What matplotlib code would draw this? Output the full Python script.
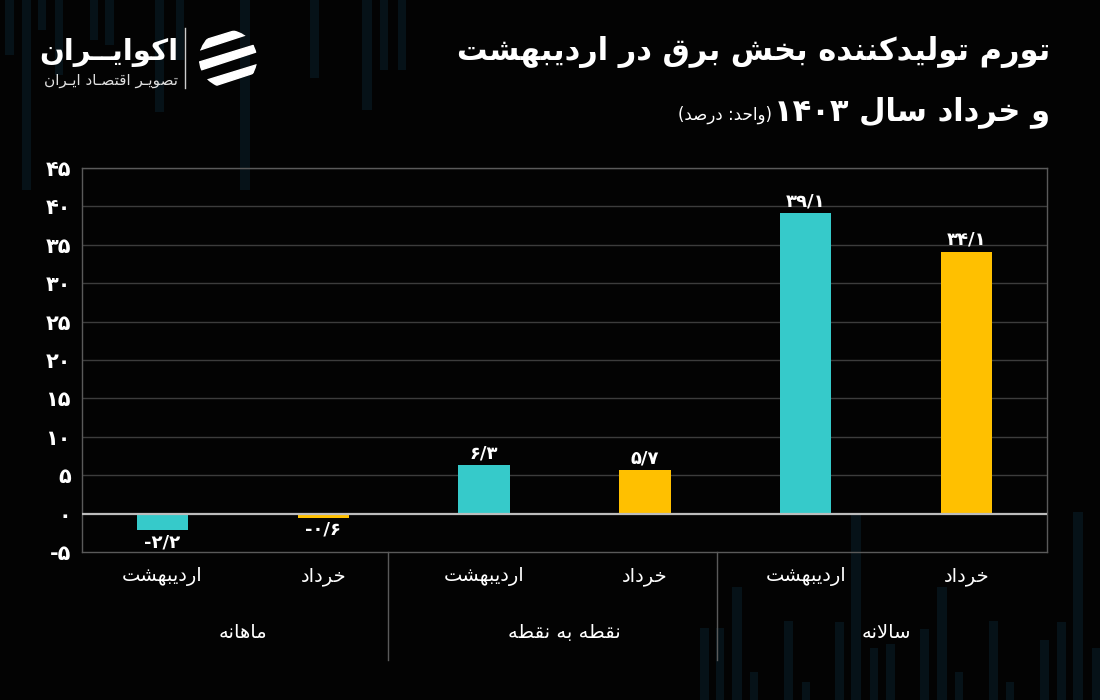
import matplotlib
matplotlib.use('Agg')
import matplotlib.pyplot as plt
from matplotlib.patches import Circle, Polygon, Rectangle
from matplotlib.text import Annotation
import matplotlib.transforms as mtransforms

# ---------------- data ----------------
categories = ['اردیبهشت', 'خرداد', 'اردیبهشت', 'خرداد', 'اردیبهشت', 'خرداد']
groups = ['ماهانه', 'نقطه به نقطه', 'سالانه']
values = [-2.2, -0.6, 6.3, 5.7, 39.1, 34.1]
yticks = [-5, 0, 5, 10, 15, 20, 25, 30, 35, 40, 45]
title_line1 = 'تورم تولیدکننده بخش برق در اردیبهشت'
title_line2 = 'و خرداد سال ۱۴۰۳'
unit_text = '(واحد: درصد)'
logo_name = 'اکوایــران'
logo_sub = 'تصویـر اقتصـاد ایـران'

TEAL = '#36CACA'
GOLD = '#FFC000'
BG = '#030303'
STRIPE = '#061218'
bar_colors = [TEAL, GOLD] * 3

# ---------------- minimal Persian shaping ----------------
F = {
    'ا': ('\uFE8D', '\uFE8E', None, None), 'آ': ('\uFE81', '\uFE82', None, None),
    'ب': ('\uFE8F', '\uFE90', '\uFE91', '\uFE92'), 'پ': ('\uFB56', '\uFB57', '\uFB58', '\uFB59'),
    'ت': ('\uFE95', '\uFE96', '\uFE97', '\uFE98'), 'ث': ('\uFE99', '\uFE9A', '\uFE9B', '\uFE9C'),
    'ج': ('\uFE9D', '\uFE9E', '\uFE9F', '\uFEA0'), 'چ': ('\uFB7A', '\uFB7B', '\uFB7C', '\uFB7D'),
    'ح': ('\uFEA1', '\uFEA2', '\uFEA3', '\uFEA4'), 'خ': ('\uFEA5', '\uFEA6', '\uFEA7', '\uFEA8'),
    'د': ('\uFEA9', '\uFEAA', None, None), 'ذ': ('\uFEAB', '\uFEAC', None, None),
    'ر': ('\uFEAD', '\uFEAE', None, None), 'ز': ('\uFEAF', '\uFEB0', None, None),
    'ژ': ('\uFB8A', '\uFB8B', None, None),
    'س': ('\uFEB1', '\uFEB2', '\uFEB3', '\uFEB4'), 'ش': ('\uFEB5', '\uFEB6', '\uFEB7', '\uFEB8'),
    'ص': ('\uFEB9', '\uFEBA', '\uFEBB', '\uFEBC'), 'ض': ('\uFEBD', '\uFEBE', '\uFEBF', '\uFEC0'),
    'ط': ('\uFEC1', '\uFEC2', '\uFEC3', '\uFEC4'), 'ظ': ('\uFEC5', '\uFEC6', '\uFEC7', '\uFEC8'),
    'ع': ('\uFEC9', '\uFECA', '\uFECB', '\uFECC'), 'غ': ('\uFECD', '\uFECE', '\uFECF', '\uFED0'),
    'ف': ('\uFED1', '\uFED2', '\uFED3', '\uFED4'), 'ق': ('\uFED5', '\uFED6', '\uFED7', '\uFED8'),
    'ک': ('\uFB8E', '\uFB8F', '\uFB90', '\uFB91'), 'گ': ('\uFB92', '\uFB93', '\uFB94', '\uFB95'),
    'ل': ('\uFEDD', '\uFEDE', '\uFEDF', '\uFEE0'), 'م': ('\uFEE1', '\uFEE2', '\uFEE3', '\uFEE4'),
    'ن': ('\uFEE5', '\uFEE6', '\uFEE7', '\uFEE8'), 'ه': ('\uFEE9', '\uFEEA', '\uFEEB', '\uFEEC'),
    'و': ('\uFEED', '\uFEEE', None, None),
    'ی': ('\uFBFC', '\uFBFD', '\uFBFE', '\uFBFF'),
    'ـ': ('ـ', 'ـ', 'ـ', 'ـ'),
}


def _dual(c):
    return c in F and F[c][2] is not None


def shape(s):
    out = []
    i, n = 0, len(s)
    while i < n:
        c = s[i]
        if c not in F:
            out.append(c)
            i += 1
            continue
        jp = i > 0 and _dual(s[i - 1])
        if c == 'ل' and i + 1 < n and s[i + 1] in 'اآ':
            out.append('\uFEFC' if jp else '\uFEFB')
            i += 2
            continue
        jn = _dual(c) and i + 1 < n and s[i + 1] in F
        iso, fin, ini, med = F[c]
        if jp and jn:
            out.append(med)
        elif jp:
            out.append(fin)
        elif jn:
            out.append(ini)
        else:
            out.append(iso)
        i += 1
    return ''.join(out)


MIRROR = {'(': ')', ')': '('}


def rtl(s):
    sh = shape(s)
    runs = []
    for ch in sh:
        ltr = ch.isdigit() or ch == '/'
        if runs and runs[-1][0] == ltr:
            runs[-1][1].append(ch)
        else:
            runs.append([ltr, [ch]])
    out = []
    for ltr, chs in reversed(runs):
        if ltr:
            out.append(''.join(chs))
        else:
            out.append(''.join(MIRROR.get(c, c) for c in reversed(chs)))
    return ''.join(out)


FA_DIGITS = str.maketrans('0123456789.', '۰۱۲۳۴۵۶۷۸۹/')


def fa_num(v, fmt='{:.1f}'):
    s = fmt.format(abs(v)).translate(FA_DIGITS)
    return ('-' if v < 0 else '') + s


# ---------------- figure ----------------
plt.rcParams['font.family'] = ['DejaVu Sans']
fig = plt.figure(figsize=(11, 7), dpi=100, facecolor=BG)

# faint decorative background stripes (pixel layout: x, width, y0, y1)
deco = [(5, 9, 0, 55), (22, 9, 0, 190), (38, 8, 0, 30), (55, 8, 0, 75), (90, 8, 0, 40),
        (105, 9, 0, 45), (155, 9, 0, 112), (176, 8, 0, 60), (240, 10, 0, 190),
        (310, 9, 0, 78), (362, 10, 0, 110), (380, 8, 0, 70), (398, 8, 0, 70),
        (700, 9, 628, 700), (716, 8, 628, 700), (732, 10, 587, 700), (750, 8, 672, 700),
        (784, 9, 621, 700), (802, 8, 682, 700), (835, 9, 622, 700), (851, 10, 515, 700),
        (870, 8, 648, 700), (886, 9, 644, 700), (920, 9, 629, 700), (937, 10, 587, 700),
        (955, 8, 672, 700), (989, 9, 621, 700), (1006, 8, 682, 700), (1040, 9, 640, 700),
        (1057, 9, 622, 700), (1073, 10, 512, 700), (1092, 8, 648, 700)]
for px, pw, py0, py1 in deco:
    fig.add_artist(Rectangle((px / 1100, 1 - py1 / 700), pw / 1100, (py1 - py0) / 700,
                             transform=fig.transFigure, color=STRIPE, lw=0, zorder=0))

ax = fig.add_axes([82 / 1100, 1 - 552 / 700, (1047 - 82) / 1100, (552 - 168) / 700])
ax.set_facecolor(BG)
ax.patch.set_alpha(0.0)

x = list(range(len(values)))
ax.bar(x, values, width=0.32, color=bar_colors, zorder=3)
ax.set_xlim(-0.5, len(values) - 0.5)
ax.set_ylim(yticks[0], yticks[-1])
ax.set_yticks(yticks)
ax.set_yticklabels([fa_num(t, '{:.0f}') for t in yticks], color='white',
                   fontsize=15, fontweight='bold')
ax.tick_params(axis='y', length=0, pad=8)
ax.set_xticks([])
for t in yticks[2:]:
    ax.axhline(t, color='#3c3c3c', lw=1, zorder=1)
ax.axhline(0, color='#bdbdbd', lw=1.6, zorder=4)
for sp in ax.spines.values():
    sp.set_color('#5a5a5a')
    sp.set_linewidth(1)

# value labels
for xi, v in zip(x, values):
    if v >= 0:
        ax.annotate(fa_num(v), (xi, v), xytext=(0, 2), textcoords='offset points',
                    ha='center', va='bottom', color='white', fontsize=13, fontweight='bold')
    else:
        ax.annotate(fa_num(v), (xi, v), xytext=(0, -2), textcoords='offset points',
                    ha='center', va='top', color='white', fontsize=13, fontweight='bold')

# category & group labels
trans = mtransforms.blended_transform_factory(ax.transData, ax.transAxes)
for xi, c in zip(x, categories):
    ax.text(xi, -0.065, rtl(c), transform=trans, ha='center', va='center',
            color='white', fontsize=14)
for gi, g in enumerate(groups):
    ax.text(2 * gi + 0.5, -0.21, rtl(g), transform=trans, ha='center', va='center',
            color='white', fontsize=14)
for b in [1.4, 3.45]:
    ax.plot([b, b], [0, -0.28], transform=trans, color='#5a5a5a', lw=1, clip_on=False)

# titles
t1 = fig.text(1050 / 1100, 1 - 52 / 700, rtl(title_line1), ha='right', va='center',
              color='white', fontsize=22, fontweight='bold')
t2 = fig.text(1050 / 1100, 1 - 112 / 700, rtl(title_line2), ha='right', va='center',
              color='white', fontsize=22, fontweight='bold')
fig.add_artist(Annotation(rtl(unit_text), xy=(0, 0.12), xycoords=t2,
                          xytext=(-1, 0), textcoords='offset points',
                          ha='right', va='bottom', color='white', fontsize=12))

# logo
fig.text(178 / 1100, 1 - 52 / 700, rtl(logo_name), ha='right', va='center', color='white',
         fontsize=21, fontweight='bold')
fig.text(178 / 1100, 1 - 80 / 700, rtl(logo_sub), ha='right', va='center', color='#e0e0e0',
         fontsize=11)
fig.add_artist(plt.Line2D([185 / 1100, 185 / 1100], [1 - 28 / 700, 1 - 88 / 700],
                          color='#cccccc', lw=1))
iax = fig.add_axes([196 / 1100, 1 - 92 / 700, 64 / 1100, 66 / 700])
iax.set_xlim(-1.1, 1.1)
iax.set_ylim(-1.1, 1.1)
iax.set_aspect('equal')
iax.axis('off')
clip = Circle((0, 0), 1.0, transform=iax.transData)
for off in [-0.7, 0.0, 0.7]:
    p = Polygon([[-1.3, off - 0.5], [1.3, off + 0.35], [1.3, off + 0.6], [-1.3, off - 0.2]],
                closed=True, color='white')
    iax.add_patch(p)
    p.set_clip_path(clip)

fig.savefig('out.png', dpi=100, facecolor=BG)
